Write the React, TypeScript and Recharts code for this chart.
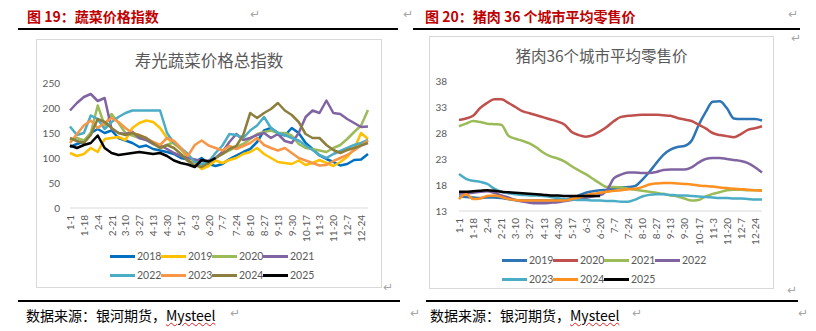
import React from 'react';
import { LineChart, Line, XAxis, YAxis } from 'recharts';

const dates = ['1-1', '1-9', '1-18', '1-26', '2-4', '2-12', '2-21', '3-1', '3-10', '3-18', '3-27', '4-4', '4-13', '4-21', '4-30', '5-8', '5-17', '5-25', '6-3', '6-11', '6-20', '6-28', '7-7', '7-15', '7-24', '8-1', '8-10', '8-18', '8-27', '9-4', '9-13', '9-21', '9-30', '10-8', '10-17', '10-25', '11-3', '11-11', '11-20', '11-28', '12-7', '12-15', '12-24', '12-31'];

// 寿光蔬菜价格总指数
const veg2018 = [122, 128, 133, 150, 158, 150, 155, 140, 135, 130, 122, 125, 118, 115, 112, 108, 100, 97, 92, 100, 88, 84, 88, 98, 105, 112, 118, 132, 155, 160, 150, 145, 160, 150, 130, 118, 105, 98, 92, 85, 88, 96, 97, 108];
const veg2019 = [110, 104, 108, 120, 112, 138, 140, 142, 136, 160, 170, 175, 172, 160, 140, 128, 118, 100, 92, 78, 84, 95, 90, 96, 100, 108, 112, 120, 108, 100, 92, 90, 88, 95, 86, 90, 96, 90, 84, 92, 102, 118, 150, 138];
const veg2020 = [135, 140, 135, 150, 205, 165, 188, 170, 150, 145, 140, 136, 128, 120, 126, 132, 118, 104, 95, 86, 92, 100, 108, 115, 122, 128, 138, 148, 152, 155, 150, 150, 145, 128, 120, 118, 115, 112, 120, 126, 138, 152, 165, 196];
const veg2021 = [195, 210, 222, 228, 214, 220, 158, 150, 148, 152, 140, 136, 128, 125, 118, 110, 104, 100, 97, 94, 95, 100, 112, 132, 148, 136, 140, 146, 150, 140, 148, 134, 130, 150, 182, 195, 190, 215, 190, 188, 178, 170, 162, 163];
const veg2022 = [163, 146, 150, 185, 178, 158, 172, 182, 190, 195, 195, 195, 195, 195, 150, 130, 120, 108, 92, 88, 92, 110, 125, 148, 146, 140, 155, 165, 182, 160, 150, 146, 140, 135, 125, 116, 106, 100, 108, 114, 120, 126, 130, 136];
const veg2023 = [130, 148, 165, 175, 160, 170, 180, 172, 160, 150, 146, 140, 132, 126, 140, 134, 120, 104, 126, 135, 125, 120, 115, 124, 118, 124, 130, 140, 126, 120, 115, 120, 110, 100, 95, 90, 85, 86, 94, 100, 106, 115, 125, 135];
const veg2024 = [140, 134, 130, 146, 178, 172, 160, 150, 146, 150, 145, 140, 130, 120, 126, 120, 108, 94, 85, 82, 90, 100, 108, 118, 124, 146, 190, 180, 190, 198, 210, 195, 186, 172, 148, 140, 140, 126, 116, 110, 116, 120, 125, 130];
const veg2025 = [125, 120, 126, 130, 145, 120, 110, 106, 108, 110, 112, 110, 108, 110, 104, 95, 90, 87, 82, 96, 93, 100];

// 猪肉36个城市平均零售价
const pork2019 = [15.8, 15.7, 15.6, 15.5, 15.6, 15.6, 15.5, 15.3, 15.1, 15.0, 15.0, 15.0, 15.0, 15.0, 15.1, 15.2, 15.5, 16.0, 16.5, 16.8, 17.0, 17.1, 17.3, 17.5, 17.6, 17.8, 19.0, 20.5, 22.2, 23.8, 24.8, 25.3, 25.5, 26.5, 29.5, 32.0, 34.0, 34.1, 32.8, 30.8, 30.7, 30.7, 30.7, 30.4];
const pork2020 = [30.5, 30.8, 31.3, 32.8, 33.8, 34.5, 34.5, 33.8, 33.0, 32.2, 31.8, 31.4, 31.0, 30.6, 30.2, 29.6, 28.2, 27.6, 27.3, 27.6, 28.3, 29.2, 30.3, 31.1, 31.3, 31.4, 31.5, 31.5, 31.5, 31.4, 31.3, 30.9, 30.6, 30.3, 29.6, 28.9, 28.0, 27.6, 27.4, 27.2, 27.8, 28.6, 28.9, 29.3];
const pork2021 = [29.3, 29.8, 30.3, 30.1, 29.8, 29.7, 29.6, 27.5, 26.9, 26.5, 26.0, 25.2, 24.2, 23.5, 23.1, 22.5, 21.6, 20.8, 20.1, 19.2, 18.3, 17.6, 17.6, 17.5, 17.3, 17.1, 16.9, 16.7, 16.5, 16.3, 16.0, 15.8, 15.4, 15.0, 15.1, 15.8, 16.3, 16.6, 17.0, 17.1, 17.1, 17.0, 17.0, 17.0];
const pork2022 = [16.3, 16.4, 16.5, 16.7, 16.8, 16.5, 16.0, 15.6, 15.1, 14.8, 14.6, 14.5, 14.5, 14.6, 14.7, 14.9, 15.1, 15.4, 15.5, 15.8, 16.0, 17.0, 19.3, 20.0, 20.4, 20.4, 20.3, 20.3, 20.5, 20.9, 21.0, 21.0, 21.0, 21.4, 22.3, 23.0, 23.2, 23.2, 23.0, 22.8, 22.6, 22.2, 21.4, 20.4];
const pork2023 = [20.1, 19.2, 18.8, 18.6, 18.2, 17.3, 16.7, 16.4, 16.2, 16.1, 16.0, 16.0, 15.9, 15.7, 15.5, 15.3, 15.2, 15.1, 15.1, 15.0, 15.0, 14.9, 14.9, 14.8, 14.8, 15.2, 15.8, 16.1, 16.2, 16.2, 16.1, 16.0, 16.0, 15.9, 15.8, 15.7, 15.6, 15.5, 15.5, 15.4, 15.4, 15.3, 15.2, 15.2];
const pork2024 = [15.3, 16.2, 15.3, 15.4, 15.9, 16.0, 15.7, 15.3, 15.1, 15.0, 15.0, 15.0, 15.0, 15.0, 15.0, 15.0, 15.3, 15.6, 16.0, 16.3, 16.5, 16.7, 16.9, 17.0, 17.2, 17.3, 17.6, 18.1, 18.3, 18.4, 18.4, 18.3, 18.2, 18.1, 17.9, 17.8, 17.7, 17.5, 17.4, 17.3, 17.2, 17.1, 17.0, 16.9];
const pork2025 = [16.7, 16.7, 16.8, 16.9, 17.0, 16.9, 16.7, 16.6, 16.5, 16.4, 16.3, 16.2, 16.1, 16.0, 16.0, 15.9, 15.9, 15.9, 15.9, 15.9, 15.9];

const vegTicks = [0, 50, 100, 150, 200, 250];
const porkTicks = [13, 18, 23, 28, 33, 38];

const vegSeries = [
  { key: '2018', values: veg2018, color: '#0070C0' },
  { key: '2019', values: veg2019, color: '#FFC000' },
  { key: '2020', values: veg2020, color: '#9BBB59' },
  { key: '2021', values: veg2021, color: '#8064A2' },
  { key: '2022', values: veg2022, color: '#4BACC6' },
  { key: '2023', values: veg2023, color: '#F79646' },
  { key: '2024', values: veg2024, color: '#8C7E3C' },
  { key: '2025', values: veg2025, color: '#000000' },
];

const porkSeries = [
  { key: '2019', values: pork2019, color: '#2E75B6' },
  { key: '2020', values: pork2020, color: '#C0504D' },
  { key: '2021', values: pork2021, color: '#9BBB59' },
  { key: '2022', values: pork2022, color: '#8064A2' },
  { key: '2023', values: pork2023, color: '#4BACC6' },
  { key: '2024', values: pork2024, color: '#FF8F1F' },
  { key: '2025', values: pork2025, color: '#000000' },
];

const buildRows = (series: { key: string; values: number[] }[]) =>
  dates.map((d, i) => {
    const row: { [k: string]: string | number | undefined } = { date: d };
    series.forEach(s => {
      row[s.key] = s.values[i];
    });
    return row;
  });

const cjk = '"Noto Sans CJK SC", sans-serif';
const num = 'Lato, "Noto Sans CJK SC", sans-serif';
const grey = '#595959';

const DateTick = (props: any) => {
  const { x, y, payload } = props;
  const ty = y + 7;
  return (
    <text
      x={x}
      y={ty}
      transform={`rotate(-90 ${x} ${ty})`}
      textAnchor="end"
      dominantBaseline="central"
      fontSize={10}
      fill={grey}
      fontFamily={num}
    >
      {payload.value}
    </text>
  );
};

const LegendRows = ({ series, left, tops }: { series: { key: string; color: string }[]; left: number; tops: number[] }) => (
  <>
    {series.map((s, i) => {
      const row = Math.floor(i / 4);
      const col = i % 4;
      return (
        <div
          key={s.key}
          style={{ position: 'absolute', left: left + col * 51, top: tops[row] - 7, height: 14, display: 'flex', alignItems: 'center' }}
        >
          <div style={{ width: 25, height: 3, background: s.color, marginRight: 2 }} />
          <span style={{ fontSize: 10.5, color: grey, fontFamily: num, lineHeight: '14px' }}>{s.key}</span>
        </div>
      );
    })}
  </>
);

const mark = (left: number, top: number) => (
  <span key={`${left}-${top}`} style={{ position: 'absolute', left, top, fontSize: 12, color: '#A6A6A6', fontFamily: 'DejaVu Sans' }}>
    ↵
  </span>
);

const Source = ({ left }: { left: number }) => (
  <div style={{ position: 'absolute', left, top: 306, fontSize: 14, lineHeight: '18px', fontFamily: cjk, color: '#000', whiteSpace: 'nowrap' }}>
    数据来源：银河期货，
    <span style={{ textDecoration: 'underline wavy #E02020', textDecorationThickness: 1 }}>Mysteel</span>
  </div>
);

const App = () => {
  const vegRows = buildRows(vegSeries);
  const porkRows = buildRows(porkSeries);

  return (
    <div style={{ position: 'absolute', left: 0, top: 0, width: 816, height: 331, background: '#fff', overflow: 'hidden' }}>
      {/* headers */}
      <div style={{ position: 'absolute', left: 27, top: 8, fontSize: 14, lineHeight: '16px', fontWeight: 700, color: '#C00000', fontFamily: cjk, whiteSpace: 'nowrap' }}>
        图 19：蔬菜价格指数
      </div>
      <div style={{ position: 'absolute', left: 425, top: 8, fontSize: 14, lineHeight: '16px', fontWeight: 700, color: '#C00000', fontFamily: cjk, whiteSpace: 'nowrap' }}>
        图 20：猪肉 36 个城市平均零售价
      </div>
      <div style={{ position: 'absolute', left: 18, top: 28, width: 380, height: 1.5, background: '#000' }} />
      <div style={{ position: 'absolute', left: 413, top: 28, width: 387, height: 1.5, background: '#000' }} />
      <div style={{ position: 'absolute', left: 18, top: 300, width: 382, height: 1.5, background: '#000' }} />
      <div style={{ position: 'absolute', left: 426, top: 300, width: 372, height: 1.5, background: '#000' }} />
      {mark(250, 7)}
      {mark(403, 7)}
      {mark(788, 7)}
      {mark(791, 31)}
      {mark(787, 283)}
      {mark(383, 280)}
      {mark(230, 306)}
      {mark(410, 306)}
      {mark(632, 306)}
      {mark(798, 306)}
      <Source left={26} />
      <Source left={430} />

      {/* left chart */}
      <div style={{ position: 'absolute', left: 36, top: 39, width: 346, height: 249, border: '1px solid #D9D9D9', boxSizing: 'border-box' }} />
      <div style={{ position: 'absolute', left: 36, top: 50, width: 346, textAlign: 'center', fontSize: 16.5, lineHeight: '20px', color: grey, fontFamily: cjk }}>
        寿光蔬菜价格总指数
      </div>
      <div style={{ position: 'absolute', left: 36, top: 39 }}>
        <LineChart width={346} height={249} data={vegRows} margin={{ top: 44, right: 14, bottom: 0, left: 0 }}>
          <XAxis
            dataKey="date"
            interval={1}
            tick={<DateTick />}
            tickLine={false}
            tickSize={0}
            tickMargin={0}
            height={80}
            axisLine={{ stroke: '#D9D9D9' }}
          />
          <YAxis
            domain={[0, 250]}
            ticks={vegTicks}
            width={34}
            axisLine={false}
            tickLine={false}
            tickSize={0}
            tickMargin={10}
            tick={{ fontSize: 10, fill: grey, fontFamily: num }}
          />
          {vegSeries.map(s => (
            <Line
              key={s.key}
              type="linear"
              dataKey={s.key}
              stroke={s.color}
              strokeWidth={2.5}
              strokeLinejoin="round"
              dot={false}
              isAnimationActive={false}
            />
          ))}
        </LineChart>
      </div>
      <LegendRows series={vegSeries} left={110} tops={[256, 275]} />

      {/* right chart */}
      <div style={{ position: 'absolute', left: 429, top: 36, width: 345, height: 253, border: '1px solid #D9D9D9', boxSizing: 'border-box' }} />
      <div style={{ position: 'absolute', left: 429, top: 45, width: 345, textAlign: 'center', fontSize: 15.5, lineHeight: '20px', color: grey, fontFamily: cjk }}>
        猪肉36个城市平均零售价
      </div>
      <div style={{ position: 'absolute', left: 429, top: 36 }}>
        <LineChart width={345} height={253} data={porkRows} margin={{ top: 45, right: 12, bottom: 0, left: 0 }}>
          <XAxis
            dataKey="date"
            interval={1}
            tick={<DateTick />}
            tickLine={false}
            tickSize={0}
            tickMargin={0}
            height={78}
            axisLine={{ stroke: '#D9D9D9' }}
          />
          <YAxis
            domain={[13, 38]}
            ticks={porkTicks}
            width={30}
            axisLine={false}
            tickLine={false}
            tickSize={0}
            tickMargin={12}
            tick={{ fontSize: 10, fill: grey, fontFamily: num }}
          />
          {porkSeries.map(s => (
            <Line
              key={s.key}
              type="monotone"
              dataKey={s.key}
              stroke={s.color}
              strokeWidth={2.5}
              strokeLinejoin="round"
              dot={false}
              isAnimationActive={false}
            />
          ))}
        </LineChart>
      </div>
      <LegendRows series={porkSeries} left={502} tops={[260, 279]} />
    </div>
  );
};

export default App;
